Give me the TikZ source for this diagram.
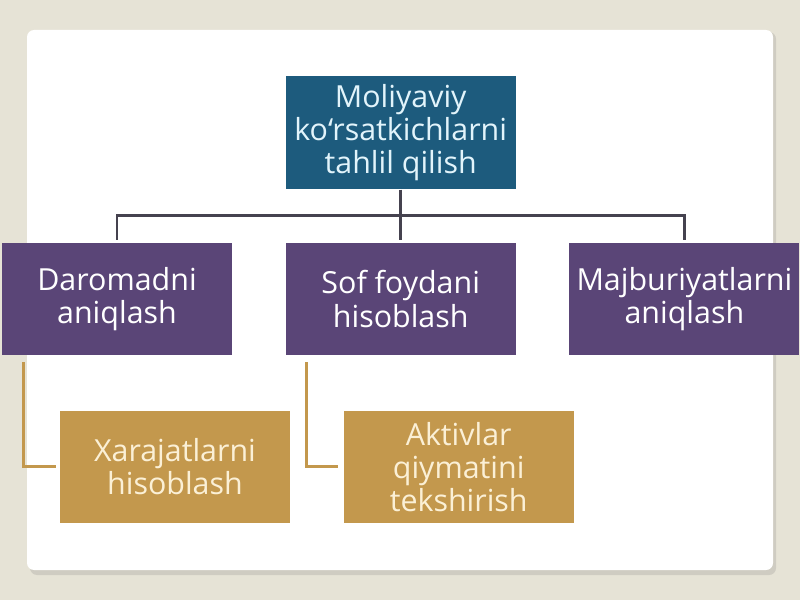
\documentclass[tikz,border=0pt]{standalone}
\usepackage{fontspec}
\setmainfont{Open Sans}
\usepackage{xcolor}
\usetikzlibrary{positioning}

\definecolor{bgbeige}{HTML}{E6E3D6}
\definecolor{panelshade}{HTML}{CFCCC2}
\definecolor{tealblue}{HTML}{1D5B7D}
\definecolor{lightcyan}{HTML}{E2F4FB}
\definecolor{plum}{HTML}{5A4577}
\definecolor{goldbox}{HTML}{C3984D}
\definecolor{cream}{HTML}{FBF0D6}
\definecolor{darkline}{HTML}{45424F}

\begin{document}
\begin{tikzpicture}[
    box/.style={minimum width=4.6cm, minimum height=2.24cm, align=center, inner sep=2pt,
        font=\fontsize{17.3}{18.8}\selectfont},
    topbox/.style={box, fill=tealblue, text=lightcyan, minimum height=2.26cm},
    midbox/.style={box, fill=plum, text=white},
    subbox/.style={box, fill=goldbox, text=cream},
    bus/.style={draw=darkline, line width=1.6pt},
    goldline/.style={draw=goldbox, line width=1.4pt}
]

% Background and panel
\fill[bgbeige] (0,0) rectangle (16,12);
\fill[panelshade, rounded corners=4pt] (0.6,0.5) rectangle (15.52,11.36);
\fill[white, rounded corners=4pt] (0.54,0.6) rectangle (15.46,11.4);

% Second level
\node[midbox] (dar) at (2.34,6.02) {Daromadni\\aniqlash};
\node[midbox, right=1.06cm of dar] (sof) {Sof foydani\\hisoblash};
\node[midbox, right=1.06cm of sof] (maj) {Majburiyatlarni\\aniqlash};

% Root
\node[topbox, above=1.06cm of sof] (top) {Moliyaviy\\ko‘rsatkichlarni\\tahlil qilish};

% Third level
\node[subbox, below=1.1cm of dar.south west, anchor=north west, xshift=1.16cm] (xar) {Xarajatlarni\\hisoblash};
\node[subbox, below=1.1cm of sof.south west, anchor=north west, xshift=1.16cm] (akt) {Aktivlar\\qiymatini\\tekshirish};

% Connectors
\coordinate[below=0.52cm of top.south] (junc);
\draw[bus] (top.south) -- (junc);
\draw[bus, shorten <=0.06cm, shorten >=0.06cm] (dar.north) |- (junc) -| (maj.north);
\draw[bus, shorten >=0.06cm] (junc) -- (sof.north);

\draw[goldline] ([xshift=0.44cm, yshift=-0.14cm]dar.south west) |- ([xshift=-0.08cm]xar.west);
\draw[goldline] ([xshift=0.42cm, yshift=-0.14cm]sof.south west) |- ([xshift=-0.1cm]akt.west);

\end{tikzpicture}
\end{document}
